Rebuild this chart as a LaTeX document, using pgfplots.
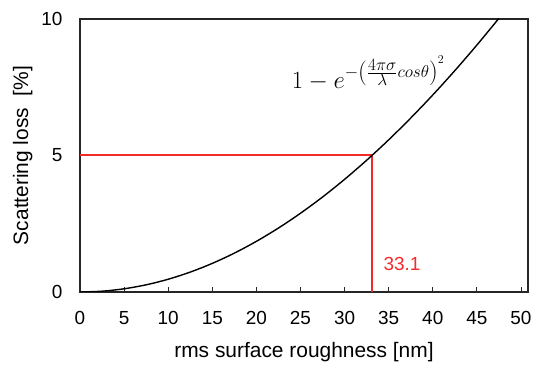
\documentclass[border=0pt]{standalone}
\usepackage{pgfplots}
\pgfplotsset{compat=1.18}
\usepackage{fontspec}
\setmainfont{Liberation Sans}
\definecolor{axgray}{HTML}{262626}
\definecolor{myred}{HTML}{F42A2A}
\begin{document}
\begin{tikzpicture}
\begin{axis}[
  scale only axis,
  width=448bp, height=273bp,
  xmin=0, xmax=50.8, ymin=0, ymax=10,
  xtick={0,5,...,50}, ytick={0,5,10},
  tick align=inside,
  xtick pos=bottom,
  ytick style={draw=none},
  major tick length=5bp,
  axis line style={axgray, line width=1.3bp},
  tick style={axgray, line width=0.8bp},
  /pgf/number format/assume math mode=true,
  ticklabel style={font=\fontsize{19}{22}\selectfont, text=black},
  xticklabel style={yshift=-16bp},
  yticklabel style={xshift=-14bp},
  xlabel={rms surface roughness [nm]},
  ylabel={Scattering loss \ [\%]},
  label style={font=\fontsize{21}{24}\selectfont},
  xlabel style={yshift=-11bp},
  ylabel style={yshift=2bp},
  clip=true,
]
\addplot[myred, line width=2bp] coordinates {(0,5) (33.1,5)};
\addplot[myred, line width=1.6bp] coordinates {(33.1,5) (33.1,0)};
\addplot[black, line width=1.4bp, smooth] coordinates {
(0,0) (2.5,0.0293) (5,0.117) (7.5,0.263) (10,0.467) (12.5,0.729) (15,1.048)
(17.5,1.423) (20,1.855) (22.5,2.342) (25,2.884) (27.5,3.478) (30,4.126)
(32.5,4.825) (35,5.573) (37.5,6.372) (40,7.216) (42.5,8.108) (45,9.044)
(47.5,10.023)};
\node[anchor=base west, text=myred, font=\fontsize{19}{22}\selectfont, inner sep=0pt] at (axis cs:34.4,0.8) {33.1};
\node[anchor=base west, inner sep=0pt, font=\fontsize{23}{28}\selectfont] at (axis cs:24.0,7.47)
  {$1-e^{-\left(\frac{\scriptstyle 4\pi\sigma}{\scriptstyle\lambda}cos\theta\right)^2}$};
\end{axis}
\path (current axis.south west) +(-80bp,-68bp) rectangle +(456bp,292bp);
\end{tikzpicture}
\end{document}
